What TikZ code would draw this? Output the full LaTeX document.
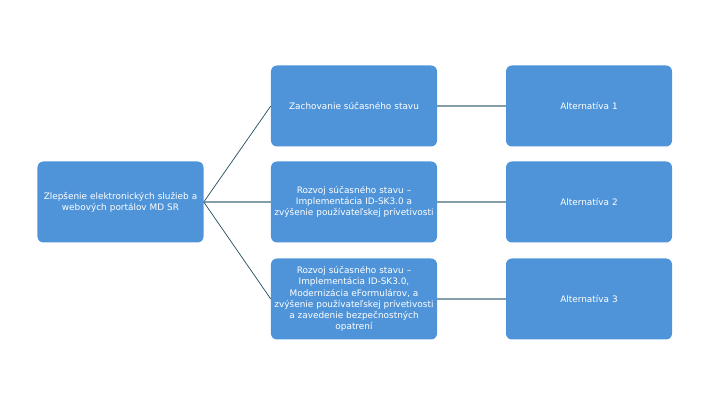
\documentclass[tikz,border=0pt]{standalone}
\usepackage{fontspec}
\setmainfont{DejaVu Sans}
\usetikzlibrary{positioning}
\definecolor{boxblue}{HTML}{4F94D8}
\definecolor{linkdark}{HTML}{1F4E5F}
\definecolor{linkgray}{HTML}{849FAA}
\tikzset{
  goalbox/.style={fill=boxblue, draw=none, rounded corners=5pt, text=white,
    minimum width=4.98cm, minimum height=2.43cm, align=center,
    text width=4.8cm, inner sep=1pt, font=\fontsize{7.6}{9.6}\selectfont},
  diaglink/.style={draw=linkdark, line width=0.6pt},
  flatlink/.style={draw=linkgray, line width=1pt}
}
\begin{document}
\begin{tikzpicture}[x=0.03cm, y=-0.03cm]
  \useasboundingbox (0,0) rectangle (720,405);

  % goal
  \node [goalbox] (goal) at (120.5,202) {Zlepšenie elektronických služieb a\\ webových portálov MD SR};

  % options
  \node [goalbox] (opt1) at (354,106) {Zachovanie súčasného stavu};
  \node [goalbox] (opt2) at (354,202) {Rozvoj súčasného stavu –\\ Implementácia ID-SK3.0 a\\ zvýšenie používateľskej prívetivosti};
  \node [goalbox] (opt3) at (354,299) {Rozvoj súčasného stavu –\\ Implementácia ID-SK3.0,\\ Modernizácia eFormulárov, a\\ zvýšenie používateľskej prívetivosti\\ a zavedenie bezpečnostných\\ opatrení};

  % alternatives
  \node [goalbox] (alt1) at (589,106) {Alternatíva 1};
  \node [goalbox] (alt2) at (589,202) {Alternatíva 2};
  \node [goalbox] (alt3) at (589,299) {Alternatíva 3};

  % links
  \draw [diaglink] (goal.east) -- (opt1.west);
  \draw [flatlink] (goal.east) -- (opt2.west);
  \draw [diaglink] (goal.east) -- (opt3.west);
  \foreach \i in {1,2,3}
    \draw [flatlink] (opt\i.east) -- (alt\i.west);
\end{tikzpicture}
\end{document}
